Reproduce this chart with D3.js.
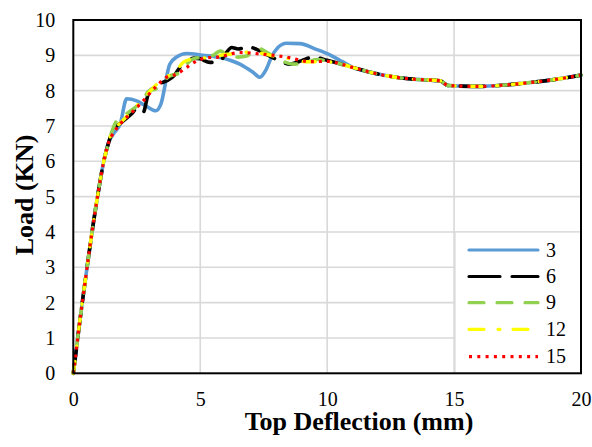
<!DOCTYPE html>
<html>
<head>
<meta charset="utf-8">
<script src="https://cdn.jsdelivr.net/npm/d3@7"></script>
<style>
  html, body { margin: 0; padding: 0; background: #fff; }
  svg { display: block; }
</style>
</head>
<body>
<svg id="chart" width="592" height="447"></svg>
<script>
// ---- data ----
const seriesNames = ["3", "6", "9", "12", "15"];
const xTicks = [0, 5, 10, 15, 20];
const yTicks = [0, 1, 2, 3, 4, 5, 6, 7, 8, 9, 10];

// common initial rise
const riseDefl = [0, 0.1, 0.2, 0.4, 0.6, 0.8, 1.0, 1.2, 1.4];
const riseLoad = [0, 0.55, 1.15, 2.25, 3.3, 4.3, 5.2, 6.0, 6.55];

// common tail
const tailDefl = [11, 11.7, 12.7, 13.5, 14.45, 14.75, 15.2, 16, 17, 18, 19, 20];
const tailLoad = [8.66, 8.52, 8.38, 8.32, 8.28, 8.15, 8.13, 8.12, 8.16, 8.23, 8.32, 8.44];

// series-specific middle parts
const midDefl3 = [1.6, 1.85, 2.1, 2.5, 2.9, 3.25, 3.45, 3.8, 4.07, 4.47, 5.1, 5.78, 6.56, 7.08, 7.35, 7.6, 7.8, 8.06, 8.4, 8.92, 9.57, 10.2, 10.6];
const midLoad3 = [6.8, 7.06, 7.77, 7.71, 7.55, 7.43, 7.62, 8.75, 8.95, 9.05, 9.0, 8.94, 8.75, 8.52, 8.38, 8.6, 8.94, 9.22, 9.34, 9.33, 9.17, 8.98, 8.82];

const midDefl6 = [1.55, 1.9, 2.3, 2.5, 2.65, 2.75, 2.95, 3.1, 3.4, 3.68, 4.0, 4.2, 4.53, 4.75, 5.0, 5.38, 5.78, 6.0, 6.24, 6.5, 6.88, 7.22, 7.74, 8.1, 8.53, 9.0, 9.44, 10.0, 10.5];
const midLoad6 = [6.86, 7.1, 7.35, 7.49, 7.42, 7.38, 7.9, 8.05, 8.2, 8.28, 8.45, 8.66, 8.84, 8.92, 8.9, 8.8, 8.84, 9.05, 9.22, 9.18, 9.24, 9.17, 8.98, 8.85, 8.75, 8.85, 8.95, 8.86, 8.76];

const midDefl9 = [1.5, 1.71, 2.2, 2.7, 3.0, 3.29, 3.6, 3.81, 4.07, 4.3, 4.47, 4.8, 5.2, 5.5, 5.78, 6.1, 6.5, 6.82, 7.28, 7.7, 8.2, 8.66, 9.2, 9.6, 10.0, 10.5];
const midLoad9 = [6.8, 7.15, 7.4, 7.7, 8.0, 8.06, 8.3, 8.42, 8.47, 8.55, 8.75, 8.92, 8.95, 9.0, 9.12, 9.0, 8.95, 8.98, 9.2, 9.05, 8.85, 8.75, 8.8, 8.88, 8.84, 8.76];

const midDefl12 = [1.5, 1.85, 2.3, 2.7, 3.29, 3.68, 4.0, 4.33, 4.7, 5.0, 5.5, 6.04, 6.5, 7.0, 7.48, 7.9, 8.4, 9.18, 9.57, 10.0, 10.5];
const midLoad12 = [6.8, 7.08, 7.42, 7.72, 8.18, 8.4, 8.5, 8.8, 8.9, 8.92, 8.95, 9.03, 9.05, 9.1, 9.05, 8.98, 8.92, 8.82, 8.82, 8.82, 8.76];

const midDefl15 = [1.5, 1.85, 2.3, 2.7, 3.29, 3.68, 4.07, 4.47, 4.86, 5.25, 5.71, 6.56, 7.48, 8.4, 9.31, 10.0, 10.5];
const midLoad15 = [6.7, 7.06, 7.38, 7.67, 8.14, 8.38, 8.47, 8.66, 8.84, 8.93, 8.95, 9.08, 9.03, 8.95, 8.82, 8.83, 8.76];

const seriesColors = ["#5B9BD5", "#000000", "#92D050", "#FFFF00", "#FF0000"];

// ---- build ----
function build(md, ml) {
  const d = riseDefl.concat(md, tailDefl);
  const l = riseLoad.concat(ml, tailLoad);
  return d.map((v, i) => ({ x: v, y: l[i] }));
}
const seriesData = [
  build(midDefl3, midLoad3),
  build(midDefl6, midLoad6),
  build(midDefl9, midLoad9),
  build(midDefl12, midLoad12),
  build(midDefl15, midLoad15)
];
const styles = [
  { w: 3.6, dash: null, cap: "round" },
  { w: 3.6, dash: "24,12", cap: "round" },
  { w: 3.6, dash: "12,15", cap: "round" },
  { w: 3.4, dash: "12,15,0.5,15", cap: "round" },
  { w: 3.2, dash: "3,5", cap: "butt" }
];

const font = "Liberation Serif";
const svg = d3.select("#chart");
const L = 73.3, R = 581, T = 20, B = 373.3;

const x = d3.scaleLinear().domain([0, 20]).range([L, R]);
const y = d3.scaleLinear().domain([0, 10]).range([B, T]);

// grid
const grid = svg.append("g");
grid.selectAll("line.h").data(yTicks.filter(v => v > 0 && v < 10)).enter().append("line")
  .attr("x1", L).attr("x2", R).attr("y1", d => y(d)).attr("y2", d => y(d))
  .attr("stroke", "#D9D9D9").attr("stroke-width", 1.6);
grid.selectAll("line.v").data(xTicks.filter(v => v > 0 && v < 20)).enter().append("line")
  .attr("y1", T).attr("y2", B).attr("x1", d => x(d)).attr("x2", d => x(d))
  .attr("stroke", "#D9D9D9").attr("stroke-width", 1.6);

// legend box
const lg = svg.append("g");
lg.append("rect").attr("x", 455).attr("y", 232).attr("width", R - 455).attr("height", B - 232)
  .attr("fill", "#fff").attr("stroke", "#D9D9D9").attr("stroke-width", 1.2);

// lines
const line = d3.line().x(d => x(d.x)).y(d => y(d.y)).curve(d3.curveMonotoneX);
seriesData.forEach((s, i) => {
  const p = svg.append("path").datum(s).attr("d", line)
    .attr("fill", "none").attr("stroke", seriesColors[i])
    .attr("stroke-width", styles[i].w).attr("stroke-linecap", styles[i].cap)
    .attr("stroke-linejoin", "round");
  if (styles[i].dash) p.attr("stroke-dasharray", styles[i].dash);
});

// frame
svg.append("rect").attr("x", L).attr("y", T).attr("width", R - L).attr("height", B - T)
  .attr("fill", "none").attr("stroke", "#000").attr("stroke-width", 2);

// legend entries
const rowY = [250, 276.5, 302.7, 329.3, 356.7];
const legendDash = [null, "31,12", "15,13", "15,14,2,13", "3,5.3"];
seriesNames.forEach((n, i) => {
  const l = lg.append("line").attr("x1", 469).attr("x2", 538).attr("y1", rowY[i]).attr("y2", rowY[i])
    .attr("stroke", seriesColors[i]).attr("stroke-width", 3.2)
    .attr("stroke-linecap", i === 4 ? "butt" : "round");
  if (legendDash[i]) l.attr("stroke-dasharray", legendDash[i]);
  lg.append("text").attr("x", 546).attr("y", rowY[i]).attr("dy", "0.33em")
    .style("font-family", font).style("font-size", "20px").text(n);
});

// axes
const xa = svg.append("g").attr("transform", `translate(0,${B})`)
  .call(d3.axisBottom(x).tickValues(xTicks).tickSize(0).tickPadding(19).tickFormat(d3.format("d")));
const ya = svg.append("g").attr("transform", `translate(${L},0)`)
  .call(d3.axisLeft(y).tickValues(yTicks).tickSize(0).tickPadding(18).tickFormat(d3.format("d")));
[xa, ya].forEach(a => {
  a.select(".domain").remove();
  a.selectAll("text").style("font-family", font).style("font-size", "20px").attr("fill", "#000");
});

// titles
svg.append("text").attr("x", 359).attr("y", 430).attr("text-anchor", "middle")
  .style("font-family", font).style("font-size", "26px").style("font-weight", "bold").text("Top Deflection (mm)");
svg.append("text").attr("transform", "translate(33,195) rotate(-90)").attr("text-anchor", "middle")
  .style("font-family", font).style("font-size", "26px").style("font-weight", "bold").text("Load (KN)");
</script>
</body>
</html>
